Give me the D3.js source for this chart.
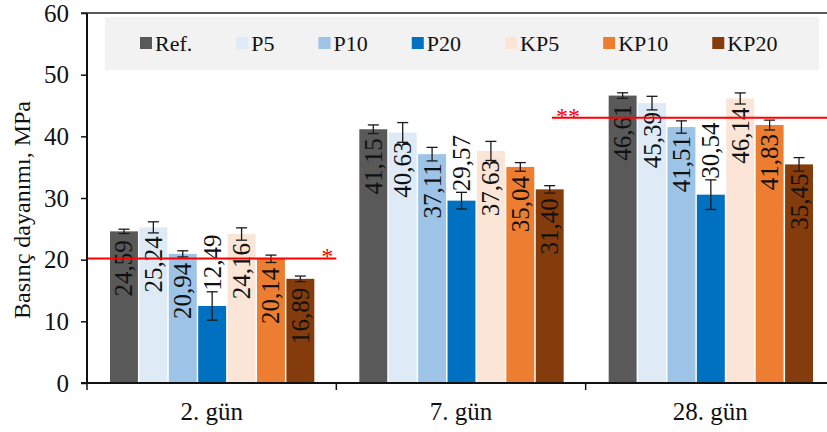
<!DOCTYPE html>
<html><head><meta charset="utf-8">
<script src="https://cdn.jsdelivr.net/npm/d3@7"></script>
<style>
html,body{margin:0;padding:0;background:#fff;}
svg{display:block;}
svg text{font-family:"Liberation Serif","Times New Roman",Times,serif;}
</style>
</head><body>
<svg id="chart" width="827" height="432"></svg>
<script>
// ---- data ----
const categories = ["2. gün", "7. gün", "28. gün"];
const seriesNames = ["Ref.", "P5", "P10", "P20", "KP5", "KP10", "KP20"];
const seriesColors = ["#595959", "#deebf7", "#9dc3e6", "#0070c0", "#fbe5d6", "#ed7d31", "#843c0c"];
const refValues  = [24.59, 41.15, 46.61];
const p5Values   = [25.24, 40.63, 45.39];
const p10Values  = [20.94, 37.11, 41.51];
const p20Values  = [12.49, 29.57, 30.54];
const kp5Values  = [24.16, 37.63, 46.14];
const kp10Values = [20.14, 35.04, 41.83];
const kp20Values = [16.89, 31.40, 35.45];
const refErrors  = [0.35, 0.7, 0.45];
const p5Errors   = [0.9, 1.6, 1.1];
const p10Errors  = [0.5, 1.1, 1.0];
const p20Errors  = [2.3, 1.35, 2.4];
const kp5Errors  = [1.0, 1.55, 0.9];
const kp10Errors = [0.6, 0.7, 0.8];
const kp20Errors = [0.45, 0.6, 1.1];
const yTicks = [0, 10, 20, 30, 40, 50, 60];
const limitValues = [20.2, 43.0];
const limitMarks = ["*", "**"];
const limitFrom = [0, 1.865];   // in category units
const limitTo = [1.0, 3.0];
const yTitle = "Basınç dayanımı, MPa";

const allValues = [refValues, p5Values, p10Values, p20Values, kp5Values, kp10Values, kp20Values];
const allErrors = [refErrors, p5Errors, p10Errors, p20Errors, kp5Errors, kp10Errors, kp20Errors];
const outsideLabelSeries = ["P20"];

const rows = [];
categories.forEach((c, ci) => {
  seriesNames.forEach((s, si) => {
    rows.push({cat: c, series: s, value: allValues[si][ci], err: allErrors[si][ci], color: seriesColors[si]});
  });
});

// ---- layout ----
const svg = d3.select("#chart");
const plotLeft = 87, plotRight = 835, plotTop = 13, plotBottom = 383;

const y = d3.scaleLinear().domain([0, 60]).range([plotBottom, plotTop]);
const x0 = d3.scaleBand().domain(categories).range([plotLeft, plotRight]).paddingInner(0).paddingOuter(0);
const x1 = d3.scaleBand().domain(seriesNames).range([23, x0.bandwidth() - 22]).paddingInner(0.05);
const xc = d3.scaleLinear().domain([0, 3]).range([plotLeft, plotRight]);
const color = d3.scaleOrdinal().domain(seriesNames).range(seriesColors);
const fmt = v => d3.format(".2f")(v).replace(".", ",");

// legend box
svg.append("rect").attr("x", 105).attr("y", 17).attr("width", 714).attr("height", 53).attr("fill", "#f2f2f2");

// bars
const g = svg.append("g");
g.selectAll("rect.bar").data(rows).join("rect").attr("class", "bar")
  .attr("x", d => x0(d.cat) + x1(d.series))
  .attr("width", x1.bandwidth())
  .attr("y", d => y(d.value))
  .attr("height", d => y(0) - y(d.value))
  .attr("fill", d => color(d.series));

// error bars
const eb = g.selectAll("g.err").data(rows).join("g").attr("class", "err")
  .attr("stroke", "#1a1a1a").attr("stroke-width", 1.3);
eb.append("line")
  .attr("x1", d => x0(d.cat) + x1(d.series) + x1.bandwidth() / 2)
  .attr("x2", d => x0(d.cat) + x1(d.series) + x1.bandwidth() / 2)
  .attr("y1", d => y(d.value + d.err)).attr("y2", d => y(d.value - d.err));
["+", "-"].forEach(sign => {
  eb.append("line")
    .attr("x1", d => x0(d.cat) + x1(d.series) + x1.bandwidth() / 2 - 5.5)
    .attr("x2", d => x0(d.cat) + x1(d.series) + x1.bandwidth() / 2 + 5.5)
    .attr("y1", d => y(sign === "+" ? d.value + d.err : d.value - d.err))
    .attr("y2", d => y(sign === "+" ? d.value + d.err : d.value - d.err));
});

// value labels
g.selectAll("text.vl").data(rows).join("text").attr("class", "vl")
  .attr("transform", d => {
    const cx = x0(d.cat) + x1(d.series) + x1.bandwidth() / 2;
    const yy = outsideLabelSeries.includes(d.series) ? y(d.value + d.err) - 1 : y(d.value) + 9;
    return `translate(${cx},${yy}) rotate(-90)`;
  })
  .attr("text-anchor", d => outsideLabelSeries.includes(d.series) ? "start" : "end")
  .attr("dominant-baseline", "central")
  .attr("font-size", 25).attr("fill", "#111")
  .text(d => fmt(d.value));

// limit lines
limitValues.forEach((v, i) => {
  svg.append("line")
    .attr("x1", xc(limitFrom[i]) + (i === 0 ? 1 : 0)).attr("x2", xc(limitTo[i]))
    .attr("y1", y(v)).attr("y2", y(v))
    .attr("stroke", "#ff0000").attr("stroke-width", 2);
  svg.append("text")
    .attr("x", i === 0 ? xc(limitTo[i]) - 3 : xc(limitFrom[i]) + 4)
    .attr("y", y(v) + 6)
    .attr("text-anchor", i === 0 ? "end" : "start")
    .attr("font-size", 24).attr("fill", "#ff0000")
    .text(limitMarks[i]);
});

// axes
const yAxis = svg.append("g").attr("transform", `translate(${plotLeft},0)`)
  .call(d3.axisLeft(y).tickValues(yTicks).tickSize(6).tickPadding(12));
yAxis.attr("font-family", null);
yAxis.select(".domain").remove();
yAxis.selectAll("line").attr("stroke", "#111").attr("stroke-width", 1.5);
yAxis.selectAll("text").attr("font-size", 25).attr("fill", "#111");
svg.append("line").attr("x1", plotLeft).attr("x2", plotLeft).attr("y1", plotTop).attr("y2", plotBottom)
  .attr("stroke", "#111").attr("stroke-width", 2);
svg.append("line").attr("x1", plotLeft - 6).attr("x2", plotRight).attr("y1", plotTop).attr("y2", plotTop)
  .attr("stroke", "#222").attr("stroke-width", 1.5);

const xAxis = svg.append("g").attr("transform", `translate(0,${plotBottom})`)
  .call(d3.axisBottom(x0).tickSize(0).tickPadding(19));
xAxis.attr("font-family", null);
xAxis.select(".domain").remove();
xAxis.selectAll("text").attr("font-size", 25).attr("fill", "#111");
svg.append("line").attr("x1", plotLeft - 6).attr("x2", plotRight).attr("y1", plotBottom).attr("y2", plotBottom)
  .attr("stroke", "#111").attr("stroke-width", 2);
svg.selectAll("line.ctick").data(categories.concat(["end"])).join("line").attr("class", "ctick")
  .attr("x1", (d, i) => xc(i)).attr("x2", (d, i) => xc(i))
  .attr("y1", plotBottom).attr("y2", plotBottom + 7)
  .attr("stroke", "#111").attr("stroke-width", 1.5);

// y title
svg.append("text")
  .attr("transform", `translate(22,${(plotTop + plotBottom) / 2 + 12}) rotate(-90)`)
  .attr("text-anchor", "middle").attr("dominant-baseline", "central")
  .attr("font-size", 24).attr("fill", "#111")
  .text(yTitle);

// legend
const leg = svg.append("g");
const lgX = 140, lgY = 43, sq = 12, gapText = 3, gapItem = 44;
let cur = lgX;
seriesNames.forEach((s, i) => {
  leg.append("rect").attr("x", cur).attr("y", lgY - sq / 2).attr("width", sq).attr("height", sq).attr("fill", seriesColors[i]);
  const t = leg.append("text").attr("x", cur + sq + gapText).attr("y", lgY)
    .attr("dominant-baseline", "central")
    .attr("font-size", 22).attr("fill", "#111").text(s);
  cur += sq + gapText + t.node().getComputedTextLength() + gapItem;
});
</script>
</body></html>
